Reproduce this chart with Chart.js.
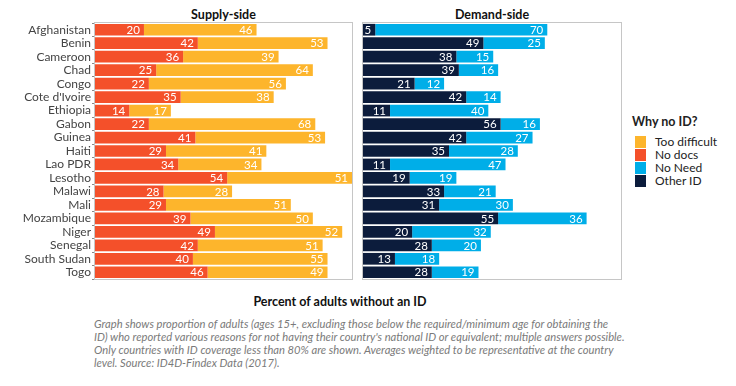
<!DOCTYPE html>
<html>
<head>
<meta charset="utf-8">
<script src="https://cdn.jsdelivr.net/npm/chart.js@4"></script>
<style>
  html, body { margin:0; padding:0; background:#fff; width:736px; height:386px; overflow:hidden; font-family: Lato, "Open Sans", sans-serif; }
  .abs { position:absolute; }
  .ptitle { font-weight:bold; font-size:12.5px; color:#111; text-align:center; }
  #legend { left:632px; top:114px; font-size:12px; color:#222; }
  #legend .lt { font-weight:bold; font-size:12.5px; margin-bottom:6px; }
  #legend .it { display:flex; align-items:center; height:13px; }
  #legend .sw { width:11px; height:12px; margin-left:3px; margin-right:9px; }
  #xtitle { left:190px; width:300px; top:294px; text-align:center; font-weight:bold; font-size:12.5px; color:#111; }
  #caption { left:94px; top:317px; font-style:italic; font-size:11.2px; color:#7a7a7a; line-height:13px; white-space:pre; }
</style>
</head>
<body>
<div class="abs ptitle" style="left:95px;width:257px;top:7px;">Supply-side</div>
<div class="abs ptitle" style="left:363px;width:258px;top:7px;">Demand-side</div>
<div class="abs" style="left:0;top:0;width:360px;height:290px;"><canvas id="c1" width="360" height="290"></canvas></div>
<div class="abs" style="left:360px;top:0;width:265px;height:290px;"><canvas id="c2" width="265" height="290"></canvas></div>
<div id="legend" class="abs"></div>
<div id="xtitle" class="abs">Percent of adults without an ID</div>
<div id="caption" class="abs"></div>
<script>
const countries = ["Afghanistan","Benin","Cameroon","Chad","Congo","Cote d'Ivoire","Ethiopia","Gabon","Guinea","Haiti","Lao PDR","Lesotho","Malawi","Mali","Mozambique","Niger","Senegal","South Sudan","Togo"];
const noDocs        = [20,42,36,25,22,35,14,22,41,29,34,54,28,29,39,49,42,40,46];
const tooDifficult  = [46,53,39,64,56,38,17,68,53,41,34,51,28,51,50,52,51,55,49];
const otherID       = [5,49,38,39,21,42,11,56,42,35,11,19,33,31,55,20,28,13,28];
const noNeed        = [70,25,15,16,12,14,40,16,27,28,47,19,21,30,36,32,20,18,19];
const legendLabels  = ["Too difficult","No docs","No Need","Other ID"];
const captionLines = [
  "Graph shows proportion of adults (ages 15+, excluding those below the required/minimum age for obtaining the",
  "ID) who reported various reasons for not having their country's national ID or equivalent; multiple answers possible.",
  "Only countries with ID coverage less than 80% are shown. Averages weighted to be representative at the country",
  "level. Source: ID4D-Findex Data (2017)."
];

const COLORS = {"Too difficult":"#fdb52c","No docs":"#f4502a","No Need":"#00aee8","Other ID":"#0c1c3c"};
const FONT = "Lato, 'Open Sans', sans-serif";

document.getElementById('caption').textContent = captionLines.join("\n");
const lg = document.getElementById('legend');
lg.innerHTML = '<div class="lt">Why no ID?</div>' + legendLabels.map(l =>
  `<div class="it"><span class="sw" style="background:${COLORS[l]}"></span>${l}</div>`).join('');

const borderAndLabels = {
  id: 'borderAndLabels',
  afterDatasetsDraw(chart) {
    const ctx = chart.ctx;
    ctx.save();
    ctx.fillStyle = '#fff';
    ctx.font = '11.5px ' + FONT;
    ctx.textAlign = 'right';
    ctx.textBaseline = 'middle';
    chart.data.datasets.forEach((ds, di) => {
      const meta = chart.getDatasetMeta(di);
      meta.data.forEach((bar, i) => {
        ctx.fillText(String(ds.data[i]), bar.x - 4, bar.y + 0.5);
      });
    });
    const a = chart.chartArea;
    ctx.strokeStyle = '#c6c6c6';
    ctx.lineWidth = 1;
    ctx.strokeRect(Math.round(a.left) - 0.5, Math.round(a.top) - 0.5, Math.round(a.right - a.left) + 1, Math.round(a.bottom - a.top) + 1);
    ctx.restore();
  }
};

function makeChart(id, datasets, showY, padding) {
  return new Chart(document.getElementById(id), {
    type: 'bar',
    data: { labels: countries, datasets },
    options: {
      indexAxis: 'y',
      responsive: false,
      animation: false,
      layout: { padding },
      plugins: { legend: { display: false }, tooltip: { enabled: false } },
      datasets: { bar: { categoryPercentage: 1, barPercentage: 0.87, borderWidth: 0 } },
      scales: {
        x: { stacked: true, min: 0, max: 105, display: false },
        y: {
          stacked: true,
          display: showY,
          grid: { drawOnChartArea: false, drawTicks: true, tickLength: 3, color: '#888' },
          border: { display: false },
          ticks: { color: '#444', font: { family: FONT, size: 12 }, padding: 1, autoSkip: false },
          afterFit(scale) { if (showY) scale.width = 95; }
        }
      }
    },
    plugins: [borderAndLabels]
  });
}

makeChart('c1', [
  { label: 'No docs', data: noDocs, backgroundColor: COLORS['No docs'] },
  { label: 'Too difficult', data: tooDifficult, backgroundColor: COLORS['Too difficult'] }
], true, { top: 23, bottom: 11, left: 0, right: 8 });

makeChart('c2', [
  { label: 'Other ID', data: otherID, backgroundColor: COLORS['Other ID'] },
  { label: 'No Need', data: noNeed, backgroundColor: COLORS['No Need'] }
], false, { top: 23, bottom: 11, left: 3, right: 4 });
</script>
</body>
</html>
